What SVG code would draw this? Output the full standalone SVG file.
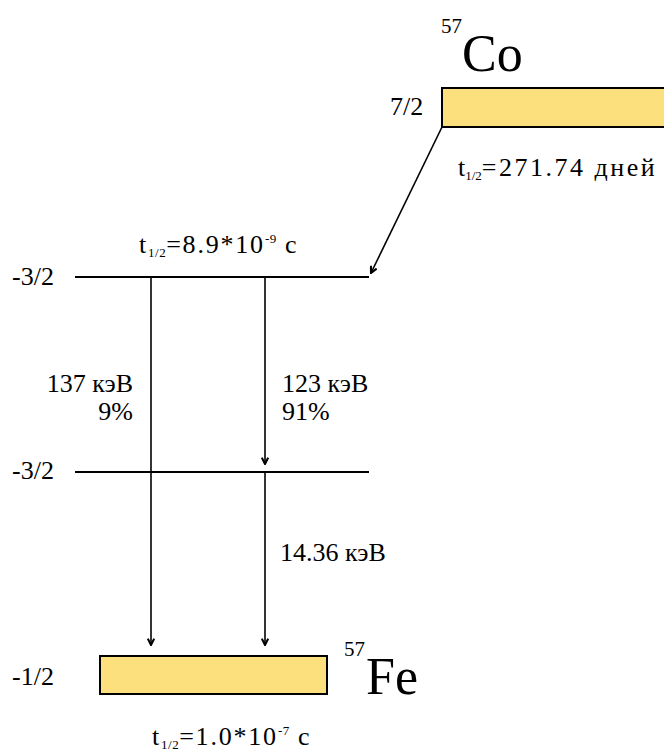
<svg xmlns="http://www.w3.org/2000/svg" width="664" height="749" viewBox="0 0 664 749">
<defs>
<marker id="ah" viewBox="0 0 10 10" refX="9" refY="5" markerWidth="8" markerHeight="8" orient="auto" markerUnits="userSpaceOnUse">
<path d="M1,1 L9,5 L1,9" fill="none" stroke="#000" stroke-width="2.6"/>
</marker>
</defs>
<g id="co57">
<rect x="442" y="88" width="230" height="39" fill="#fde07e" stroke="#000" stroke-width="2"/>
<text font-family="Liberation Serif" font-size="21" x="441" y="33">57</text>
<text font-family="Liberation Serif" font-size="52" x="462" y="71">Co</text>
<text font-family="Liberation Serif" font-size="26" x="390" y="115">7/2</text>
<text font-family="Liberation Serif" font-size="26" x="458" y="176">t<tspan font-size="13" dy="4">1/2</tspan><tspan dy="-4" letter-spacing="2.5">=271.74 дней</tspan></text>
</g>
<g id="level1">
<line x1="75" y1="277" x2="369" y2="277" stroke="#000" stroke-width="2"/>
<text font-family="Liberation Serif" font-size="26" x="12" y="285">-3/2</text>
<text font-family="Liberation Serif" font-size="26" x="139" y="253" letter-spacing="1.8">t<tspan font-size="13" dy="4" letter-spacing="0.5">1/2</tspan><tspan dy="-4">=8.9*10</tspan><tspan font-size="13" dy="-10" letter-spacing="0.5">-9</tspan><tspan dy="10"> c</tspan></text>
</g>
<g id="level2">
<line x1="75" y1="472" x2="369" y2="472" stroke="#000" stroke-width="2"/>
<text font-family="Liberation Serif" font-size="26" x="12" y="479">-3/2</text>
</g>
<g id="fe57">
<rect x="100" y="656" width="227" height="38" fill="#fde07e" stroke="#000" stroke-width="2"/>
<text font-family="Liberation Serif" font-size="26" x="12" y="685">-1/2</text>
<text font-family="Liberation Serif" font-size="21" x="344" y="656">57</text>
<text font-family="Liberation Serif" font-size="52" x="366" y="694">Fe</text>
<text font-family="Liberation Serif" font-size="26" x="152" y="745" letter-spacing="1.8">t<tspan font-size="13" dy="4" letter-spacing="0.5">1/2</tspan><tspan dy="-4">=1.0*10</tspan><tspan font-size="13" dy="-10" letter-spacing="0.5">-7</tspan><tspan dy="10"> c</tspan></text>
</g>
<g id="connectors" stroke="#000" stroke-width="1.6" fill="none">
<line x1="442" y1="127" x2="371" y2="273" marker-end="url(#ah)"/>
<line x1="151" y1="277" x2="151" y2="645" marker-end="url(#ah)"/>
<line x1="265" y1="277" x2="265" y2="464" marker-end="url(#ah)"/>
<line x1="265" y1="472" x2="265" y2="645" marker-end="url(#ah)"/>
</g>
<g id="labels">
<text font-family="Liberation Serif" font-size="26" x="133" y="392" text-anchor="end">137 кэВ</text>
<text font-family="Liberation Serif" font-size="26" x="133" y="420" text-anchor="end">9%</text>
<text font-family="Liberation Serif" font-size="26" x="282" y="392">123 кэВ</text>
<text font-family="Liberation Serif" font-size="26" x="282" y="420">91%</text>
<text font-family="Liberation Serif" font-size="26" x="280" y="561">14.36 кэВ</text>
</g>
</svg>
